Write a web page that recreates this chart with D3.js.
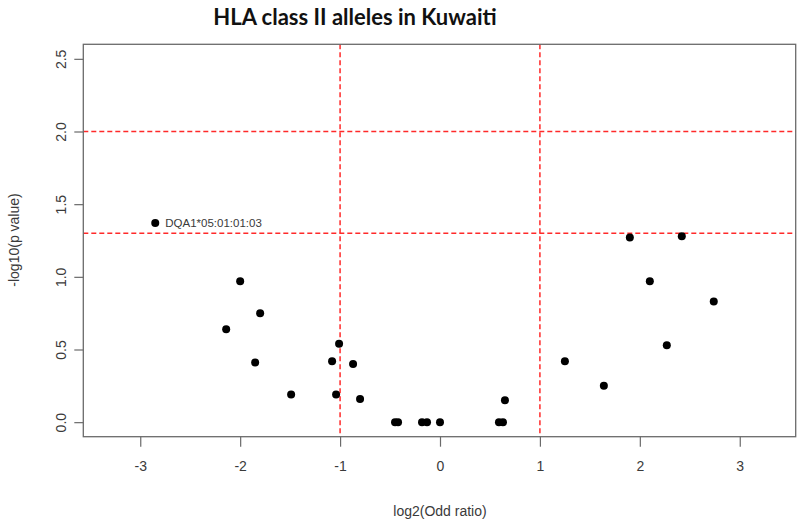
<!doctype html>
<html>
<head>
<meta charset="utf-8">
<title>HLA class II alleles in Kuwaiti</title>
<style>
  body { margin: 0; background: #fff; }
  svg text { font-family: "Liberation Sans", Arial, sans-serif; fill: #3a3a3a; }
  .title { font-family: Lato, "Open Sans", sans-serif; font-weight: bold; fill: #111; }
</style>
<script src="https://d3js.org/d3.v7.min.js"></script>
</head>
<body>
<svg width="800" height="523"></svg>
<script>
// log2 odds ratio and -log10 p for each allele
var log2OR = [-2.85, -2.00, -2.14, -1.80, -1.85, -1.49,
              -1.01, -1.08, -0.87, -1.04, -0.80,
              -0.45, -0.42, -0.18, -0.13, 0.00, 0.59, 0.63, 0.65,
              1.25, 1.64, 1.90, 2.10, 2.27, 2.42, 2.74];
var negLogP = [1.37, 0.97, 0.64, 0.75, 0.41, 0.19,
               0.54, 0.42, 0.40, 0.19, 0.16,
               0.00, 0.00, 0.00, 0.00, 0.00, 0.00, 0.00, 0.15,
               0.42, 0.25, 1.27, 0.97, 0.53, 1.28, 0.83];
var pointLabels = ["DQA1*05:01:01:03"];
var labelIndex = [0];

var xTicks = [-3, -2, -1, 0, 1, 2, 3];
var yTicks = [0, 0.5, 1, 1.5, 2, 2.5];
var vLines = [-1, 1];
var hLines = [1.3, 2];

var svg = d3.select("svg");
var pLeft = 83.3, pRight = 795.7, pTop = 44.3, pBottom = 436.7;

var x = d3.scaleLinear().domain([-3.57, 3.56]).range([pLeft, pRight]);
var y = d3.scaleLinear().domain([-0.1, 2.6]).range([pBottom, pTop]);

// title
svg.append("text").attr("class", "title")
  .attr("x", 355).attr("y", 25)
  .attr("text-anchor", "middle")
  .style("font-size", "22px")
  .text("HLA class II alleles in Kuwaiti");

// reference lines
var ref = svg.append("g");
ref.selectAll("line.v").data(vLines).enter().append("line")
  .attr("class", "v")
  .attr("x1", function(d) { return x(d); }).attr("x2", function(d) { return x(d); })
  .attr("y1", pTop).attr("y2", pBottom);
ref.selectAll("line.h").data(hLines).enter().append("line")
  .attr("class", "h")
  .attr("y1", function(d) { return y(d); })
  .attr("y2", function(d) { return y(d); })
  .attr("x1", pLeft).attr("x2", pRight);
ref.selectAll("line")
  .attr("stroke", "#ff2a2a")
  .attr("stroke-width", 1.5)
  .attr("stroke-dasharray", "5,3");

// box
svg.append("rect")
  .attr("x", pLeft).attr("y", pTop)
  .attr("width", pRight - pLeft).attr("height", pBottom - pTop)
  .attr("fill", "none").attr("stroke", "#6a6a6a").attr("stroke-width", 1.3);

// axes
var xAxis = svg.append("g")
  .attr("transform", "translate(0," + pBottom + ")")
  .call(d3.axisBottom(x).tickValues(xTicks).tickSize(10).tickPadding(14)
    .tickFormat(function(d) { return d; }));
var yAxis = svg.append("g")
  .attr("transform", "translate(" + pLeft + ",0)")
  .call(d3.axisLeft(y).tickValues(yTicks).tickSize(9).tickFormat(d3.format(".1f")));

[xAxis, yAxis].forEach(function(a) {
  a.select(".domain").remove();
  a.selectAll(".tick line").attr("stroke", "#6a6a6a").attr("stroke-width", 1.2);
  a.selectAll(".tick text").style("font-size", "14px").attr("fill", "#3a3a3a");
});
xAxis.selectAll(".tick text").attr("dy", "0.71em");
yAxis.selectAll(".tick text")
  .attr("text-anchor", "middle")
  .attr("x", 0).attr("y", 0).attr("dy", 0)
  .attr("transform", "translate(-17,0) rotate(-90)");

// axis titles
svg.append("text")
  .attr("x", 440).attr("y", 516)
  .attr("text-anchor", "middle")
  .style("font-size", "14px")
  .text("log2(Odd ratio)");
svg.append("text")
  .attr("transform", "translate(19,240) rotate(-90)")
  .attr("text-anchor", "middle")
  .style("font-size", "14px")
  .text("-log10(p value)");

// points
svg.append("g").selectAll("circle")
  .data(log2OR).enter().append("circle")
  .attr("cx", function(d) { return x(d); })
  .attr("cy", function(d, i) { return y(negLogP[i]); })
  .attr("r", 4)
  .attr("fill", "#000");

// point labels
svg.append("g").selectAll("text")
  .data(labelIndex).enter().append("text")
  .attr("x", function(d) { return x(log2OR[d]) + 10; })
  .attr("y", function(d) { return y(negLogP[d]) + 4; })
  .style("font-size", "11.5px")
  .text(function(d, i) { return pointLabels[i]; });
</script>
</body>
</html>
